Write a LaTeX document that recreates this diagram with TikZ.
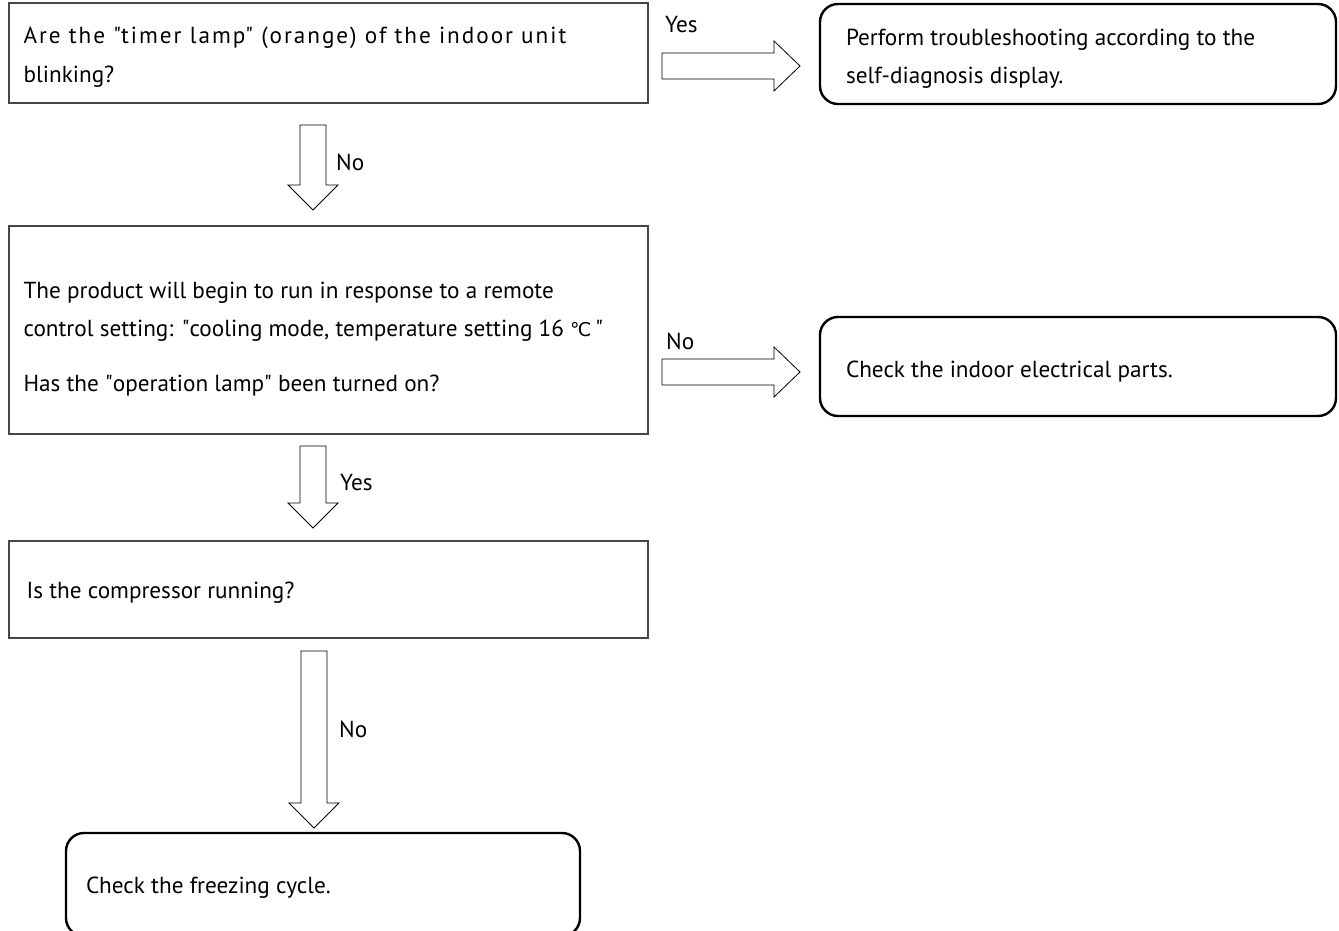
\documentclass[tikz,border=0pt]{standalone}
\usepackage{fontspec}
\setmainfont{PT Sans}
\newfontfamily\symf{DejaVu Sans}
\newfontfamily\widef[LetterSpace=8.5]{PT Sans}
\usetikzlibrary{calc}
\definecolor{boxgray}{RGB}{70,70,70}
\newcommand\qq{\textquotedbl}
\tikzset{
  sqbox/.style={draw=boxgray, line width=1.3pt, rectangle, inner sep=0pt},
  rbox/.style={draw=black, line width=2.4pt, rounded corners=18pt, inner sep=0pt},
  boxtext/.style={font=\fontsize{23.2}{38.5}\selectfont, align=left, inner sep=0pt},
  lbl/.style={font=\fontsize{23.2}{26}\selectfont, inner sep=0pt},
  blockarrow/.style={draw=black, line width=0.8pt, fill=white, line join=miter}
}
\newcommand\downblock[2]{\draw[blockarrow] let \p1=(#1), \p2=(#2) in
  (\x1-13pt,\y1) -- (\x1+13pt,\y1) -- (\x1+13pt,\y2+25pt) -- (\x1+25pt,\y2+25pt)
  -- (\x1,\y2) -- (\x1-25pt,\y2+25pt) -- (\x1-13pt,\y2+25pt) -- cycle;}
\newcommand\rightblock[2]{\draw[blockarrow] let \p1=(#1), \p2=(#2) in
  (\x1,\y1+13pt) -- (\x1,\y1-13pt) -- (\x2-26pt,\y1-13pt) -- (\x2-26pt,\y1-25pt)
  -- (\x2,\y1) -- (\x2-26pt,\y1+25pt) -- (\x2-26pt,\y1+13pt) -- cycle;}
\begin{document}
\begin{tikzpicture}[x=1pt,y=1pt]
\useasboundingbox (0,0) rectangle (1339,931);
% boxes
\node[sqbox, minimum width=639pt, minimum height=100pt] (b1) at (328.5,878) {};
\node[rbox, minimum width=516pt, minimum height=100pt] (r1) at (1078,877) {};
\node[sqbox, minimum width=639pt, minimum height=208pt] (b2) at (328.5,601) {};
\node[rbox, minimum width=516pt, minimum height=99pt] (r2) at (1078,564.5) {};
\node[sqbox, minimum width=639pt, minimum height=97pt] (b3) at (328.5,341.5) {};
\node[rbox, minimum width=514pt, minimum height=103pt] (r3) at (323,46.5) {};
% texts
\node[boxtext, anchor=west] (b1t) at ([xshift=15pt,yshift=-4pt]b1.west)
  {{\widef Are the \qq timer lamp\qq\ (orange) of the indoor unit}\\blinking?};
\node[boxtext, anchor=west] (r1t) at ([xshift=27pt,yshift=-5pt]r1.west)
  {Perform troubleshooting according to the\\self-diagnosis display.};
\node[boxtext, anchor=west] (b2t) at ([xshift=15pt,yshift=-9pt]b2.west)
  {The product will begin to run in response to a remote\\control setting: \qq cooling mode, temperature setting 16 {\symf\fontsize{19}{20}\selectfont ℃}\,\qq\\[16pt]Has the \qq operation lamp\qq\ been turned on?};
\node[boxtext, anchor=west] (r2t) at ([xshift=27pt,yshift=-5pt]r2.west)
  {Check the indoor electrical parts.};
\node[boxtext, anchor=west] (b3t) at ([xshift=18pt,yshift=-3pt]b3.west)
  {Is the compressor running?};
\node[boxtext, anchor=west] (r3t) at ([xshift=21pt,yshift=-3pt]r3.west)
  {Check the freezing cycle.};
% arrow endpoints
\coordinate (h1s) at (662,865);
\coordinate (h1e) at (800,865);
\coordinate (v1s) at (313,806);
\coordinate (v1e) at (313,721);
\coordinate (h2s) at (662,559);
\coordinate (h2e) at (800,559);
\coordinate (v2s) at (313,485);
\coordinate (v2e) at (313,403);
\coordinate (v3s) at (314,280);
\coordinate (v3e) at (314,103);
\rightblock{h1s}{h1e}
\downblock{v1s}{v1e}
\rightblock{h2s}{h2e}
\downblock{v2s}{v2e}
\downblock{v3s}{v3e}
% labels
\node[lbl, anchor=west] (l1) at (665,906) {Yes};
\node[lbl, anchor=west] (l2) at (336,769) {No};
\node[lbl, anchor=west] (l3) at (666,590) {No};
\node[lbl, anchor=west] (l4) at (340,448) {Yes};
\node[lbl, anchor=west] (l5) at (339,202) {No};
\end{tikzpicture}
\end{document}
